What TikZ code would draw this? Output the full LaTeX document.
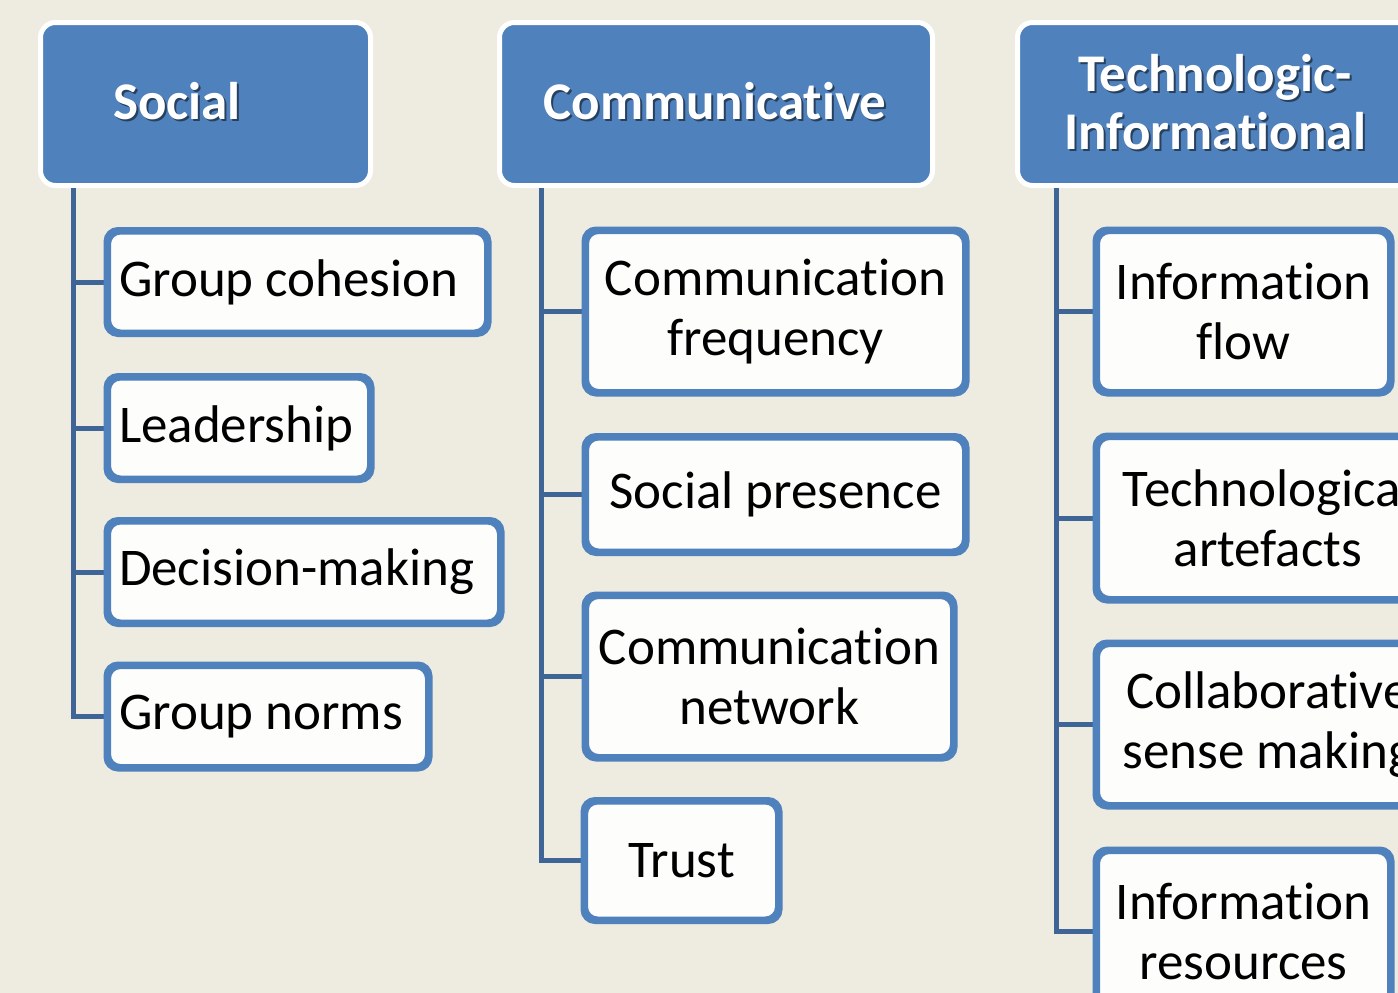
\documentclass[tikz,border=0pt]{standalone}
\usepackage{fontspec}
\setmainfont{Carlito}[Ligatures=NoCommon]
\definecolor{bgcream}{HTML}{EEEBE1}
\definecolor{hdrblue}{HTML}{4F81BD}
\definecolor{edgeblue}{HTML}{4F81BD}
\definecolor{spineblue}{HTML}{3E6596}
\definecolor{boxfill}{HTML}{FDFDFB}
\definecolor{txtshadow}{HTML}{27405E}
% white heading text with a soft drop shadow
\newcommand\hdrtext[1]{\rlap{\hspace{2pt}\raisebox{-2.5pt}{\textcolor{txtshadow}{#1}}}#1}
% flush-left label inside a box of given inner width
\newcommand\flushtext[2]{\makebox[#1][l]{#2}}
\tikzset{
  header/.style={draw=white, line width=5pt, fill=hdrblue, rounded corners=15pt,
    inner sep=0pt, text=white, align=center,
    font=\fontsize{53}{58}\selectfont\bfseries},
  itembox/.style={draw=edgeblue, line width=5pt, fill=boxfill, rounded corners=12pt,
    inner sep=0pt, text=black, align=center,
    font=\fontsize{53}{60}\selectfont},
  conn/.style={draw=spineblue, line width=5pt}
}
\begin{document}
\begin{tikzpicture}[x=1pt,y=-1pt]
  \fill[bgcream] (0,0) rectangle (1398,993);
  \useasboundingbox (0,0) rectangle (1398,993);
  \clip (0,0) rectangle (1398,993);

  % column headings
  \node[header, minimum width=330pt, minimum height=163pt] (social) at (205.5,104) {};
  \node[header, minimum width=433pt, minimum height=163pt] (comm) at (716,104) {};
  \node[header, minimum width=433pt, minimum height=163pt] (tech) at (1234,104) {};

  \node[header, draw=none, fill=none] (social-t) at (177,102) {\hdrtext{Social}};
  \node[header, draw=none, fill=none] (comm-t) at (715,102) {\hdrtext{Communicative}};
  \node[header, draw=none, fill=none] (tech-t) at (1215,103) {\hdrtext{Technologic-}\\\hdrtext{Informational}};

  % spine start points just under each heading
  \coordinate (s-top) at (73,188);
  \coordinate (c-top) at (541,188);
  \coordinate (t-top) at (1056,188);

  % Social items (flush-left text)
  \node[itembox, minimum width=378pt, minimum height=100pt] (gc) at (297.5,282) {\flushtext{357pt}{Group cohesion}};
  \node[itembox, minimum width=261pt, minimum height=100pt] (lead) at (239,428) {\flushtext{240pt}{Leadership}};
  \node[itembox, minimum width=391pt, minimum height=100pt] (dm) at (304,572) {\flushtext{370pt}{Decision-making}};
  \node[itembox, minimum width=319pt, minimum height=100pt] (gn) at (268,716.5) {\flushtext{298pt}{Group norms}};

  % Communicative items
  \node[itembox, minimum width=378pt, minimum height=160pt] (cf) at (775.5,311.5) {Communication\\frequency};
  \node[itembox, minimum width=378pt, minimum height=113pt] (sp) at (775.5,494.5) {Social presence};
  \node[itembox, minimum width=366pt, minimum height=160pt] (cn) at (769.5,676.5) {Communication\\network};
  \node[itembox, minimum width=192pt, minimum height=117pt] (trust) at (681.5,860.5) {Trust};

  % Technologic-Informational items
  \node[itembox, minimum width=292pt, minimum height=160pt] (ifl) at (1243.5,311.5) {Information\\flow};
  \node[itembox, minimum width=341pt, minimum height=161pt] (ta) at (1268,518) {Technological\\artefacts};
  \node[itembox, minimum width=341pt, minimum height=160pt] (csm) at (1268,724.5) {Collaborative\\sense making};
  \node[itembox, minimum width=292pt, minimum height=160pt] (ir) at (1243.5,931.5) {Information\\resources};

  % connectors from each spine to its items
  \foreach \n in {gc,lead,dm,gn} \draw[conn] (s-top) |- (\n.west);
  \foreach \n in {cf,sp,cn,trust} \draw[conn] (c-top) |- (\n.west);
  \foreach \n in {ifl,ta,csm,ir} \draw[conn] (t-top) |- (\n.west);

  % redraw item outlines over connector ends
  \foreach \n in {gc,lead,dm,gn,cf,sp,cn,trust,ifl,ta,csm,ir}
    \draw[edgeblue, line width=5pt, rounded corners=12pt] (\n.north west) rectangle (\n.south east);
\end{tikzpicture}
\end{document}
